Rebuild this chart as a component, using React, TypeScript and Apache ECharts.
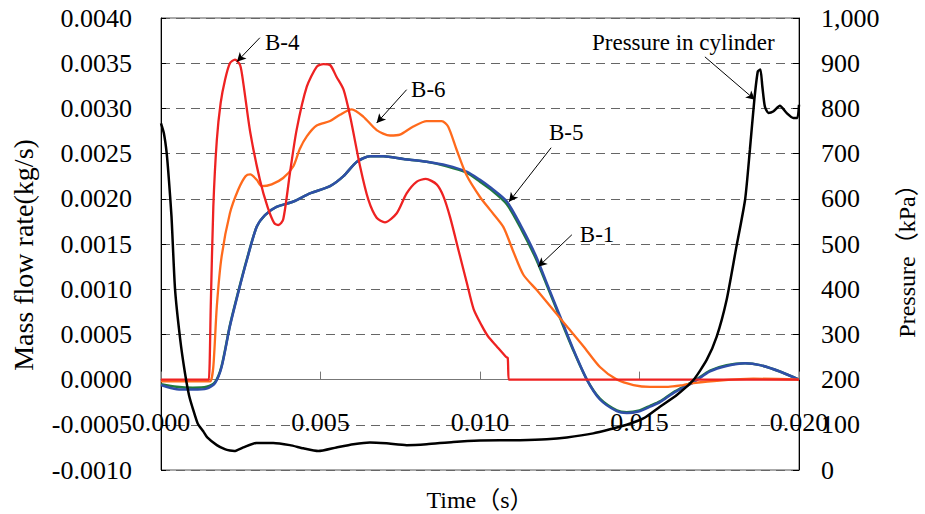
import React, { useEffect, useRef } from "react";
import * as echarts from "echarts";

// Time samples in milliseconds; converted to seconds for the x axis.
const b4TimeMs = [0, 1.45, 1.5, 1.56, 1.64, 1.75, 1.87, 2.01, 2.16, 2.32, 2.48, 2.58, 2.8, 3.1, 3.34, 3.55, 3.68, 3.83, 4.04, 4.25, 4.57, 4.88, 5.09, 5.3, 5.5, 5.72, 5.93, 6.24, 6.5, 6.76, 7.02, 7.39, 7.7, 8.02, 8.3, 8.64, 8.85, 9.06, 9.32, 9.58, 9.8, 10.05, 10.25, 10.52, 10.82, 10.87, 10.9, 10.95, 20];
const b4Flow = [0, 0, 0, 0.00081, 0.00191, 0.00265, 0.00306, 0.00332, 0.0035, 0.00354, 0.00348, 0.00328, 0.00273, 0.00221, 0.00191, 0.00173, 0.00171, 0.00177, 0.00228, 0.00276, 0.00324, 0.00346, 0.00349, 0.00348, 0.00335, 0.00321, 0.00291, 0.00236, 0.00199, 0.00179, 0.00174, 0.00184, 0.00206, 0.00219, 0.00222, 0.00216, 0.00203, 0.0018, 0.00144, 0.00108, 0.00078, 0.0006, 0.00048, 0.00037, 0.00025, 0.00024, 0, 0, 0];

const b6TimeMs = [0, 1.5, 1.55, 1.64, 1.75, 1.9, 2.16, 2.42, 2.65, 2.8, 3.0, 3.16, 3.47, 3.83, 4.15, 4.35, 4.57, 4.88, 5.3, 5.61, 5.98, 6.34, 6.76, 7.18, 7.49, 7.91, 8.33, 8.8, 9.0, 9.27, 9.58, 10.0, 10.31, 10.73, 11.04, 11.36, 11.78, 12.3, 12.72, 13.24, 13.76, 14.29, 14.81, 15.33, 15.9, 16.37, 16.69, 17.52, 18.57, 20];
const b6Flow = [-0.00002, -0.00002, -0.00002, 0.00014, 0.00081, 0.00136, 0.00184, 0.0021, 0.00225, 0.00227, 0.00221, 0.00214, 0.00216, 0.00223, 0.00236, 0.00255, 0.00269, 0.00281, 0.00286, 0.00293, 0.00299, 0.00291, 0.00276, 0.0027, 0.00271, 0.0028, 0.00286, 0.00286, 0.0028, 0.00254, 0.00226, 0.00202, 0.00188, 0.00169, 0.00142, 0.00116, 0.00099, 0.00077, 0.00059, 0.00037, 0.00014, 0, -0.00006, -0.00008, -0.00008, -0.00006, -0.00004, -0.00001, 0.00001, 0];

const b1TimeMs = [0, 0.49, 1.0, 1.43, 1.69, 1.9, 2.16, 2.42, 2.69, 3.0, 3.26, 3.62, 4.15, 4.67, 5.3, 5.72, 6.14, 6.55, 6.97, 7.6, 8.33, 8.96, 9.58, 10.0, 10.31, 10.84, 11.3, 11.75, 12.09, 12.51, 12.93, 13.35, 13.76, 14.29, 14.6, 15.0, 15.33, 15.64, 16.06, 16.69, 17.21, 17.73, 18.31, 18.78, 19.4, 20];
const b1Flow = [-0.00006, -0.000106, -0.00011, -0.0001, -0.00004, 0.00014, 0.00059, 0.00096, 0.00132, 0.00169, 0.00182, 0.00191, 0.00197, 0.00206, 0.00214, 0.00225, 0.00241, 0.00247, 0.00247, 0.00244, 0.00241, 0.00237, 0.0023, 0.00221, 0.00213, 0.00197, 0.00169, 0.00137, 0.00107, 0.0007, 0.00033, 0, -0.00022, -0.00035, -0.00037, -0.00035, -0.0003, -0.00025, -0.00015, -0.00003, 0.00009, 0.00015, 0.00018, 0.00016, 0.00009, 0];

const b5TimeMs = [0, 0.49, 1.0, 1.43, 1.69, 1.9, 2.16, 2.42, 2.69, 3.0, 3.26, 3.62, 4.15, 4.67, 5.3, 5.72, 6.14, 6.55, 6.97, 7.6, 8.33, 8.96, 9.58, 10.0, 10.31, 10.84, 11.3, 11.75, 12.09, 12.51, 12.93, 13.35, 13.76, 14.29, 14.6, 15.0, 15.33, 15.64, 16.06, 16.69, 17.21, 17.73, 18.31, 18.78, 19.4, 20];
const b5Flow = [-0.00005, -0.00008, -0.00009, -0.00008, -0.00003, 0.00015, 0.0006, 0.00097, 0.00133, 0.00169, 0.00182, 0.00191, 0.00197, 0.00206, 0.00214, 0.00225, 0.00241, 0.00247, 0.00247, 0.00244, 0.00241, 0.00236, 0.00229, 0.00219, 0.00211, 0.00194, 0.00166, 0.00134, 0.00105, 0.00068, 0.00032, 0, -0.00021, -0.00034, -0.00036, -0.00034, -0.00029, -0.00024, -0.00014, -0.00002, 0.0001, 0.00016, 0.00018, 0.00016, 0.00009, 0];

const pressureTimeMs = [0, 0.09, 0.18, 0.25, 0.33, 0.44, 0.6, 0.75, 0.88, 1.01, 1.15, 1.33, 1.45, 1.75, 2.0, 2.16, 2.3, 2.58, 2.99, 3.52, 4.04, 4.46, 4.93, 5.5, 6.03, 6.55, 7.07, 7.7, 8.33, 9.16, 10.0, 11.25, 12.09, 12.72, 13.55, 14.18, 14.6, 15.12, 15.64, 16.17, 16.69, 17.11, 17.42, 17.73, 18.02, 18.31, 18.46, 18.6, 18.71, 18.79, 18.85, 18.93, 19.04, 19.19, 19.4, 19.61, 19.82, 19.95, 20];
const pressureKPa = [767, 745, 700, 640, 560, 400, 290, 215, 165, 133, 103, 85, 72, 55, 46, 43, 42, 50, 60, 60, 55, 48, 42, 50, 57, 61, 59, 55, 57, 62, 65, 66, 68, 72, 81, 92, 100, 114, 140, 166, 199, 244, 295, 376, 487, 598, 708, 819, 882, 886, 849, 804, 790, 793, 806, 790, 779, 779, 808];

// Axis ranges
const timeRange = [0, 0.02];
const flowRange = [-0.001, 0.004];
const pressureRange = [0, 1000];

// Callout labels: [text, anchor time (ms), anchor value, arrow tail time, tail value, arrow head time, head value, axis]
const callouts: [string, number, number, number, number, number, number, number][] = [
  ["B-4", 3.26, 0.003727, 3.1, 0.003782, 2.38, 0.003517, 0],
  ["B-6", 7.84, 0.003207, 7.7, 0.003207, 6.76, 0.002838, 0],
  ["B-5", 12.16, 0.002731, 12.23, 0.002565, 10.91, 0.001967, 0],
  ["B-1", 13.13, 0.001602, 12.88, 0.001602, 11.82, 0.001247, 0],
  ["Pressure in cylinder", 13.51, 945, 17.05, 914, 18.62, 819, 1],
];

const FONT = "'Liberation Serif', 'Noto Sans CJK JP', serif";
const GRID = { left: 161, right: 126, top: 18, bottom: 44 };
const HEIGHT = 514;

const pairs = (tMs: number[], vals: number[]) => tMs.map((t, i) => [t / 1000, vals[i]]);

export default function App() {
  const ref = useRef<HTMLDivElement>(null);

  useEffect(() => {
    document.body.style.margin = "0";
    if (!ref.current) return;
    const chart = echarts.init(ref.current, undefined, { renderer: "svg" });

    const lineSeries = (name: string, data: number[][], color: string, yAxisIndex = 0, width = 2.5, smooth = 0.25) => ({
      name,
      type: "line",
      yAxisIndex,
      data,
      showSymbol: false,
      symbol: "none",
      smooth,
      lineStyle: { color, width },
      emphasis: { disabled: true },
      silent: true,
    });

    const arrowData = (axis: number) =>
      callouts
        .filter((c) => c[7] === axis)
        .map((c) => [{ coord: [c[3] / 1000, c[4]] }, { coord: [c[5] / 1000, c[6]] }]);

    const markLine = (axis: number) => ({
      silent: true,
      symbol: ["none", "arrow"],
      symbolSize: [7, 9],
      label: { show: false },
      lineStyle: { color: "#000", width: 1, type: "solid" },
      emphasis: { disabled: true },
      data: arrowData(axis),
    });

    const b5 = lineSeries("B-5", pairs(b5TimeMs, b5Flow), "#1f7a3c", 0, 2.5);
    const b1 = lineSeries("B-1", pairs(b1TimeMs, b1Flow), "#2f4fa8", 0, 2.5);
    const b6 = lineSeries("B-6", pairs(b6TimeMs, b6Flow), "#ff6a1c", 0, 2.3);
    const b4 = { ...lineSeries("B-4", pairs(b4TimeMs, b4Flow), "#ee2222", 0, 2.3), markLine: markLine(0) };
    const pressure = { ...lineSeries("Pressure in cylinder", pairs(pressureTimeMs, pressureKPa), "#000", 1, 2.5, 0.2), markLine: markLine(1) };

    // The time axis sits on the zero flow line: shift it up from the bottom edge.
    const plotHeight = HEIGHT - GRID.top - GRID.bottom;
    const zeroOffset = -plotHeight * (0 - flowRange[0]) / (flowRange[1] - flowRange[0]);

    chart.setOption({
      animation: false,
      backgroundColor: "#fff",
      grid: {
        ...GRID,
        containLabel: false, outerBoundsMode: "none",
        show: true, borderColor: "#555", borderWidth: 1, backgroundColor: "transparent",
      },
      xAxis: {
        type: "value",
        min: timeRange[0],
        max: timeRange[1],
        interval: 0.005,
        offset: zeroOffset,
        name: "Time（s）",
        nameLocation: "middle",
        nameGap: 108,
        nameTextStyle: { fontFamily: FONT, fontSize: 24, color: "#000" },
        axisLine: { onZero: false, lineStyle: { color: "#777", width: 1 } },
        axisTick: { show: true, inside: true, length: 8, lineStyle: { color: "#777" } },
        axisLabel: { formatter: (v: number) => v.toFixed(3), fontFamily: FONT, fontSize: 26, color: "#000", margin: 30, showMinLabel: true, showMaxLabel: true },
        splitLine: { show: false },
      },
      yAxis: [
        {
          type: "value",
          min: flowRange[0],
          max: flowRange[1],
          interval: 0.0005,
          position: "left",
          name: "Mass flow rate(kg/s)",
          nameLocation: "middle",
          nameRotate: 90,
          nameGap: 124,
          nameTextStyle: { fontFamily: FONT, fontSize: 28, color: "#000", padding: [0, 22, 0, 0] },
          axisLine: { show: true, onZero: false, lineStyle: { color: "#000", width: 1 } },
          axisTick: { show: true, inside: true, length: 5, lineStyle: { color: "#000" } },
          axisLabel: { formatter: (v: number) => v.toFixed(4), fontFamily: FONT, fontSize: 26, color: "#000", margin: 29 },
          splitLine: { show: true, lineStyle: { color: "#666", width: 1, type: [9, 6] } },
        },
        {
          type: "value",
          min: pressureRange[0],
          max: pressureRange[1],
          interval: 100,
          position: "right",
          name: "Pressure（kPa）",
          nameLocation: "middle",
          nameRotate: 90,
          nameGap: 96,
          nameTextStyle: { fontFamily: FONT, fontSize: 24, color: "#000", padding: [0, 22, 0, 0] },
          axisLine: { show: true, onZero: false, lineStyle: { color: "#000", width: 1 } },
          axisTick: { show: true, inside: true, length: 6, lineStyle: { color: "#000" } },
          axisLabel: { formatter: (v: number) => v.toLocaleString("en-US"), fontFamily: FONT, fontSize: 26, color: "#000", margin: 22 },
          splitLine: { show: false },
        },
      ],
      series: [b5, b1, b6, b4, pressure],
    });

    // Callout texts, placed from data coordinates.
    const graphic = callouts.map((c) => {
      const [px, py] = chart.convertToPixel({ xAxisIndex: 0, yAxisIndex: c[7] } as any, [c[1] / 1000, c[2]]) as number[];
      return {
        type: "text",
        x: px,
        y: py,
        silent: true,
        style: { text: c[0], fontFamily: FONT, fontSize: 23, fill: "#000", align: "left", verticalAlign: "middle" },
      };
    });
    chart.setOption({ graphic });

    return () => chart.dispose();
  }, []);

  return <div ref={ref} style={{ width: 925, height: HEIGHT }} />;
}
